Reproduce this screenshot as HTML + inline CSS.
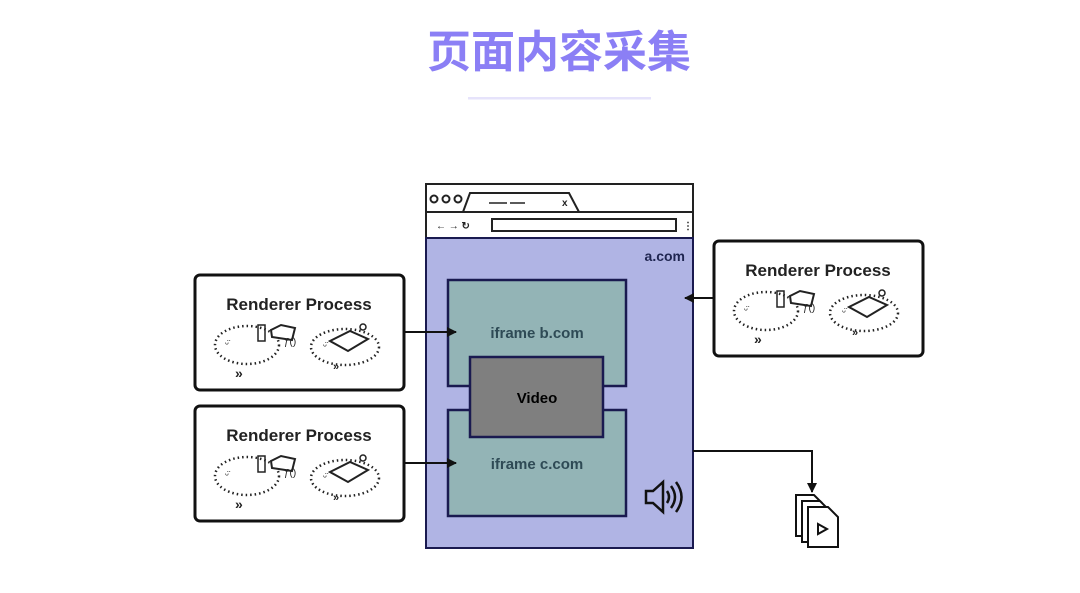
<!DOCTYPE html>
<html><head><meta charset="utf-8"><style>
html,body{margin:0;padding:0;background:#fff;width:1080px;height:593px;overflow:hidden}
</style></head><body>
<svg width="1080" height="593" viewBox="0 0 1080 593" xmlns="http://www.w3.org/2000/svg">
<defs>
<g id="rp">
 <rect x="0" y="0" width="209" height="115" rx="5" fill="#fff" stroke="#111" stroke-width="3"/>
 <text x="104" y="35" text-anchor="middle" font-family="Liberation Sans, sans-serif" font-size="17" font-weight="bold" fill="#222">Renderer Process</text>
 <ellipse cx="52" cy="70" rx="32" ry="19" fill="none" stroke="#222" stroke-width="2.5" stroke-dasharray="1.5 3"/>
 <ellipse cx="150" cy="72" rx="34" ry="18" fill="none" stroke="#222" stroke-width="2.5" stroke-dasharray="1.5 3"/>
 <text x="30" y="72" font-family="Liberation Sans, sans-serif" font-size="10" fill="#222">ᵕ̈</text>
 <text x="128" y="74" font-family="Liberation Sans, sans-serif" font-size="10" fill="#222">ᵕ̈</text>
 <rect x="63" y="50" width="7" height="16" fill="none" stroke="#222" stroke-width="1.5"/>
 <path d="M76 55 l10 -5 l14 3 l-3 12 l-20 -3z" fill="#fff" stroke="#222" stroke-width="2"/>
 <text x="89" y="70" font-family="Liberation Sans, sans-serif" font-size="10" fill="#222">ƒ()</text>
 <text x="40" y="103" font-family="Liberation Sans, sans-serif" font-size="14" font-weight="bold" fill="#222">»</text>
 <path d="M135 66 l20 -10 l18 8 l-20 12z" fill="#fff" stroke="#222" stroke-width="2"/>
 <circle cx="168" cy="52" r="3" fill="none" stroke="#222" stroke-width="1.5"/>
 <text x="138" y="95" font-family="Liberation Sans, sans-serif" font-size="11" font-weight="bold" fill="#222">»</text>
</g>
<marker id="ah" markerWidth="10" markerHeight="10" refX="9" refY="5" orient="auto" markerUnits="userSpaceOnUse"><path d="M0 0 L10 5 L0 10z" fill="#111"/></marker>
</defs>

<text x="559" y="67" text-anchor="middle" font-family="Liberation Sans, 'Noto Sans CJK SC', sans-serif" font-size="44" font-weight="bold" fill="#8b7ff5">页面内容采集</text>
<rect x="468" y="97" width="183" height="2.5" fill="#e6e3fb"/>

<rect x="426" y="184" width="267" height="54" fill="#fff" stroke="#222" stroke-width="2"/>
<line x1="426" y1="212" x2="693" y2="212" stroke="#222" stroke-width="2"/>
<circle cx="434" cy="199" r="3.5" fill="none" stroke="#222" stroke-width="2"/>
<circle cx="446" cy="199" r="3.5" fill="none" stroke="#222" stroke-width="2"/>
<circle cx="458" cy="199" r="3.5" fill="none" stroke="#222" stroke-width="2"/>
<path d="M463 212 L470 193 L569 193 L579 212" fill="none" stroke="#222" stroke-width="2"/>
<line x1="489" y1="203" x2="507" y2="203" stroke="#222" stroke-width="1.5"/>
<line x1="510" y1="203" x2="525" y2="203" stroke="#222" stroke-width="1.5"/>
<text x="562" y="206" font-family="Liberation Sans, sans-serif" font-size="10" font-weight="bold" fill="#222">x</text>
<text x="436" y="229" font-family="Liberation Sans, sans-serif" font-size="10" font-weight="bold" fill="#222">← → ↻</text>
<rect x="492" y="219" width="184" height="12" fill="#fff" stroke="#222" stroke-width="2"/>
<text x="683" y="229" font-family="Liberation Sans, sans-serif" font-size="10" font-weight="bold" fill="#222">⋮</text>
<rect x="426" y="238" width="267" height="310" fill="#b0b4e4" stroke="#1a1a50" stroke-width="2"/>
<text x="685" y="261" text-anchor="end" font-family="Liberation Sans, sans-serif" font-size="14" font-weight="bold" fill="#1f2550">a.com</text>

<rect x="448" y="280" width="178" height="106" fill="#93b4b6" stroke="#1a1a50" stroke-width="2.5"/>
<text x="537" y="338" text-anchor="middle" font-family="Liberation Sans, sans-serif" font-size="15" font-weight="bold" fill="#2e4a55">iframe b.com</text>
<rect x="448" y="410" width="178" height="106" fill="#93b4b6" stroke="#1a1a50" stroke-width="2.5"/>
<text x="537" y="469" text-anchor="middle" font-family="Liberation Sans, sans-serif" font-size="15" font-weight="bold" fill="#2e4a55">iframe c.com</text>
<rect x="470" y="357" width="133" height="80" fill="#7f7f7f" stroke="#1a1a50" stroke-width="2.5"/>
<text x="537" y="403" text-anchor="middle" font-family="Liberation Sans, sans-serif" font-size="15" font-weight="bold" fill="#000">Video</text>

<path d="M646 491 h7 l10 -9 v30 l-10 -9 h-7z" fill="none" stroke="#111" stroke-width="2.5"/>
<path d="M667 491 q4 6 0 12" fill="none" stroke="#111" stroke-width="2.5"/>
<path d="M671 486 q8 11 0 22" fill="none" stroke="#111" stroke-width="2.5"/>
<path d="M676 482 q11 15 0 30" fill="none" stroke="#111" stroke-width="2.5"/>

<use href="#rp" x="195" y="275"/>
<use href="#rp" x="195" y="406"/>
<use href="#rp" x="714" y="241"/>

<line x1="404" y1="332" x2="456" y2="332" stroke="#111" stroke-width="2" marker-end="url(#ah)"/>
<line x1="404" y1="463" x2="456" y2="463" stroke="#111" stroke-width="2" marker-end="url(#ah)"/>
<line x1="714" y1="298" x2="685" y2="298" stroke="#111" stroke-width="2" marker-end="url(#ah)"/>
<path d="M693 451 H812 V492" fill="none" stroke="#111" stroke-width="2" marker-end="url(#ah)"/>

<g fill="#fff" stroke="#111" stroke-width="2">
<path d="M796 495 h18 l8 8 v33 h-26z"/>
<path d="M802 501 h18 l8 8 v33 h-26z"/>
<path d="M808 507 h20 l10 10 v30 h-30z"/>
<path d="M818 524 l9 5 l-9 5z"/>
</g>
</svg>
</body></html>
